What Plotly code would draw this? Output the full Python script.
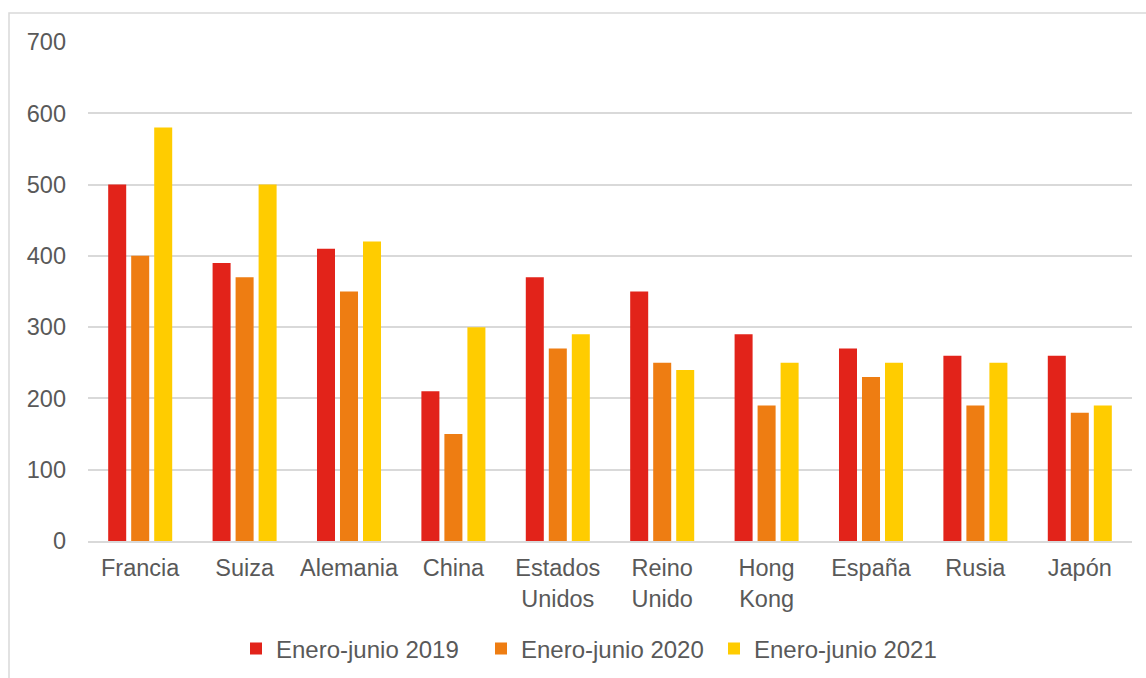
import plotly.graph_objects as go

categories = ["Francia", "Suiza", "Alemania", "China", "Estados<br>Unidos",
              "Reino<br>Unido", "Hong<br>Kong", "España", "Rusia", "Japón"]
series_names = ["Enero-junio 2019", "Enero-junio 2020", "Enero-junio 2021"]
values_2019 = [500, 390, 410, 210, 370, 350, 290, 270, 260, 260]
values_2020 = [400, 370, 350, 150, 270, 250, 190, 230, 190, 180]
values_2021 = [580, 500, 420, 300, 290, 240, 250, 250, 250, 190]
y_ticks = [0, 100, 200, 300, 400, 500, 600, 700]

colors = ["#E2231A", "#EE7D12", "#FFCC00"]
legend_widths = [200, 188, 186]
font_family = "Liberation Sans, Arial, sans-serif"
text_color = "#595959"

fig = go.Figure()
for name, vals, col, lw in zip(series_names, [values_2019, values_2020, values_2021],
                               colors, legend_widths):
    fig.add_trace(go.Bar(x=categories, y=vals, name=name, legendwidth=lw,
                         marker=dict(color=col, line=dict(width=0))))

L, R, T, B = 88, 14, 42, 137
W, H = 1146, 678
pw = W - L - R
ph = H - T - B
y_bottom_px = H - B

fig.update_layout(
    width=W, height=H,
    margin=dict(l=L, r=R, t=T, b=B, pad=0, autoexpand=False),
    paper_bgcolor="white", plot_bgcolor="white",
    barmode="group", bargap=0.339, bargroupgap=0.217,
    font=dict(family=font_family, size=23.5, color=text_color),
    showlegend=True,
    legend=dict(orientation="h", x=(236 - L) / pw, xanchor="left",
                y=(y_bottom_px - 649) / ph, yanchor="middle",
                font=dict(family=font_family, size=24, color=text_color),
                traceorder="normal", itemclick=False),
    xaxis=dict(showgrid=False, showline=True, linecolor="#D9D9D9", linewidth=1.5,
               ticks="", tickfont=dict(size=23.5, color=text_color),
               ticklabelstandoff=5, fixedrange=True),
    yaxis=dict(range=[0, 700], tickvals=y_ticks, showgrid=True,
               gridcolor="#D9D9D9", gridwidth=1.5, zeroline=False,
               showline=False, ticks="", tickfont=dict(size=23.5, color=text_color),
               ticklabelstandoff=21, fixedrange=True),
    shapes=[dict(type="rect", xref="paper", yref="paper",
                 x0=(9 - L) / pw, x1=(W + 20 - L) / pw,
                 y0=(y_bottom_px - (H + 20)) / ph, y1=(y_bottom_px - 13) / ph,
                 line=dict(color="#D9D9D9", width=1.5), fillcolor="rgba(0,0,0,0)",
                 layer="below")],
)

fig.write_html("out.html")
